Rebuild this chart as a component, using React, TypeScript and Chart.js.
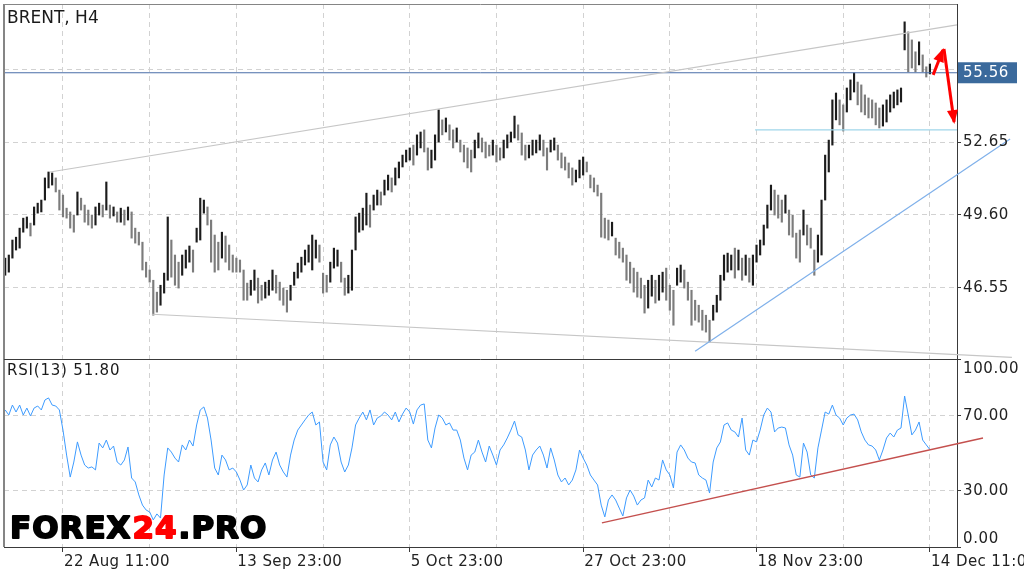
import React, { useEffect, useRef } from 'react';
import { Chart, registerables } from 'chart.js';

Chart.register(...registerables);

// ---- DATA (one point = two H4 bars) ----
const symbolTitle = 'BRENT, H4';
const rsiTitle = 'RSI(13)';
const highs = [
  47.77, 47.90, 48.53, 48.65, 49.03, 49.45, 49.50, 49.24, 49.92, 50.08,
  50.21, 51.14, 51.39, 51.35, 51.14, 50.63, 50.42, 49.87, 49.71, 49.58,
  50.55, 50.29, 50.00, 49.79, 49.58, 49.92, 50.08, 50.00, 50.97, 50.00,
  49.92, 49.71, 49.87, 49.79, 49.92, 49.71, 49.03, 48.86, 48.44, 47.60,
  47.27, 46.84, 46.34, 46.63, 47.14, 49.50, 48.53, 47.90, 47.60, 47.90,
  48.11, 48.28, 48.11, 49.03, 50.29, 50.21, 49.92, 49.37, 48.74, 48.44,
  48.86, 48.70, 48.32, 47.90, 47.77, 47.69, 47.27, 46.72, 46.84, 47.27,
  46.93, 46.63, 46.76, 46.84, 47.27, 47.05, 46.76, 46.51, 46.42, 46.63,
  47.18, 47.56, 47.81, 48.11, 48.32, 48.74, 48.53, 48.32, 47.14, 47.05,
  47.60, 48.19, 48.11, 47.60, 46.93, 47.05, 48.11, 49.50, 49.66, 49.87,
  50.50, 50.00, 50.42, 50.63, 50.55, 51.05, 51.26, 51.14, 51.56, 51.81,
  52.10, 52.31, 52.40, 52.52, 52.95, 53.07, 53.16, 52.40, 52.31, 52.95,
  54.00, 53.58, 53.66, 53.37, 53.16, 53.24, 52.73, 52.52, 52.40, 52.31,
  52.73, 53.03, 52.82, 52.65, 52.52, 52.73, 52.52, 52.40, 52.73, 52.95,
  53.07, 53.74, 53.37, 53.03, 52.52, 52.52, 52.73, 52.73, 52.95, 52.73,
  52.40, 52.73, 52.82, 52.52, 52.19, 52.02, 51.77, 51.56, 51.47, 51.89,
  52.02, 51.81, 51.26, 51.14, 50.84, 50.50, 49.45, 49.37, 49.28, 48.61,
  48.44, 48.19, 47.90, 47.60, 47.35, 47.18, 46.93, 46.63, 46.84, 47.05,
  46.84, 47.05, 47.18, 47.35, 46.63, 46.42, 47.35, 47.48, 47.27, 46.76,
  46.42, 46.00, 45.79, 45.58, 45.37, 45.16, 45.79, 46.21, 47.05, 47.90,
  47.98, 47.90, 48.19, 48.11, 47.77, 47.90, 47.77, 47.90, 48.32, 48.53,
  49.16, 50.00, 50.84, 50.63, 50.42, 50.21, 50.42, 49.79, 49.58, 48.82,
  48.95, 49.79, 49.16, 49.03, 48.11, 48.74, 50.21, 52.10, 52.73, 54.42,
  54.71, 54.42, 54.21, 54.92, 55.26, 55.55, 55.17, 55.05, 54.63, 54.50,
  54.42, 54.29, 54.08, 54.21, 54.42, 54.63, 54.75, 54.84, 54.92, 57.70,
  57.28, 56.94, 56.44, 56.86, 56.31, 55.81, 55.93,
];
const lows = [
  47.05, 47.18, 47.77, 48.11, 48.19, 48.86, 49.03, 48.70, 49.16, 49.66,
  49.71, 50.21, 50.72, 50.84, 50.55, 49.79, 49.50, 49.45, 49.03, 48.86,
  49.58, 49.79, 49.28, 49.16, 49.03, 49.16, 49.58, 49.50, 49.79, 49.45,
  49.54, 49.28, 49.28, 49.16, 49.37, 48.61, 48.40, 48.32, 47.27, 46.97,
  46.76, 45.37, 45.50, 45.79, 46.30, 46.84, 46.97, 46.63, 46.51, 47.05,
  47.35, 47.60, 47.18, 48.44, 48.53, 49.66, 49.16, 47.60, 47.18, 47.27,
  47.77, 47.60, 47.27, 47.18, 47.18, 47.18, 46.00, 46.00, 46.21, 46.42,
  45.88, 46.00, 46.09, 46.21, 46.42, 46.30, 46.00, 45.79, 45.50, 46.00,
  46.63, 46.93, 47.18, 47.48, 47.60, 47.27, 47.77, 47.60, 46.30, 46.34,
  46.76, 47.35, 47.43, 46.76, 46.21, 46.30, 46.42, 48.11, 48.86, 48.95,
  49.16, 49.07, 49.79, 50.00, 50.00, 50.42, 50.63, 50.55, 50.84, 51.14,
  51.60, 51.81, 51.89, 51.68, 52.10, 52.40, 52.23, 51.47, 51.56, 51.89,
  52.65, 52.95, 53.07, 52.73, 52.40, 52.65, 52.23, 51.81, 51.56, 51.39,
  51.98, 52.40, 52.23, 51.98, 52.06, 52.10, 51.81, 51.89, 51.98, 52.40,
  52.65, 52.82, 52.73, 52.10, 51.89, 51.98, 52.10, 52.19, 52.31, 52.06,
  51.47, 52.23, 52.31, 51.89, 51.56, 51.47, 51.14, 50.84, 50.97, 51.14,
  51.26, 51.39, 50.72, 50.55, 50.38, 48.65, 48.61, 48.53, 48.70, 47.90,
  47.77, 47.60, 46.84, 46.72, 46.34, 46.13, 46.09, 45.46, 45.67, 46.17,
  45.88, 46.00, 46.34, 46.00, 45.58, 44.95, 46.63, 46.76, 46.51, 46.00,
  44.95, 45.16, 45.08, 44.74, 44.66, 44.24, 45.16, 45.50, 46.00, 46.84,
  47.18, 47.27, 46.93, 47.27, 46.84, 47.05, 46.76, 46.63, 47.60, 47.90,
  48.32, 49.03, 49.79, 49.58, 49.45, 49.28, 49.66, 48.74, 48.65, 47.77,
  47.60, 48.74, 48.32, 48.19, 47.05, 47.60, 47.90, 50.21, 51.39, 52.52,
  53.58, 53.37, 53.11, 53.91, 54.42, 54.75, 54.21, 53.91, 53.79, 53.66,
  53.66, 53.37, 53.24, 53.32, 53.49, 53.91, 54.08, 54.21, 54.33, 56.52,
  55.60, 55.76, 55.60, 55.89, 55.60, 55.38, 55.51,
];
const rsiValues = [
  72.9, 70.2, 75.5, 71.8, 75.5, 70.2, 73.9, 69.7, 73.9, 75.0,
  72.9, 78.2, 79.3, 75.5, 75.0, 72.9, 62.2, 48.9, 37.2, 45.2,
  55.9, 48.9, 43.6, 42.0, 42.6, 41.0, 55.3, 52.7, 56.9, 51.6,
  53.7, 45.2, 43.6, 46.3, 53.2, 36.7, 34.6, 27.7, 22.3, 19.7,
  18.6, 14.4, 17.6, 15.4, 38.3, 52.7, 50.5, 47.3, 45.2, 54.3,
  51.6, 56.9, 53.7, 64.9, 72.9, 74.5, 68.6, 56.9, 42.0, 38.3,
  48.9, 46.3, 41.0, 42.0, 39.9, 35.6, 30.3, 33.0, 43.6, 36.7,
  34.6, 41.0, 44.7, 38.3, 46.3, 50.5, 43.6, 39.9, 37.2, 48.9,
  56.9, 62.2, 64.9, 67.6, 70.2, 71.8, 64.9, 66.5, 45.2, 41.0,
  54.3, 58.5, 55.3, 45.2, 39.9, 43.6, 52.7, 64.9, 68.6, 71.8,
  67.6, 72.9, 64.9, 68.6, 69.7, 71.8, 70.2, 67.6, 71.8, 66.5,
  70.7, 73.9, 71.8, 65.4, 72.9, 75.5, 76.1, 56.9, 52.7, 63.3,
  70.2, 68.6, 64.9, 66.0, 62.2, 62.2, 56.9, 47.3, 41.0, 48.9,
  50.5, 56.9, 50.5, 45.2, 53.7, 48.9, 43.6, 51.6, 54.3, 58.0,
  62.2, 67.0, 59.6, 58.5, 51.6, 41.0, 48.9, 51.6, 53.7, 48.9,
  42.0, 52.7, 46.3, 38.3, 34.6, 36.7, 33.0, 35.6, 41.0, 51.6,
  47.3, 43.6, 38.3, 35.6, 33.0, 22.3, 16.0, 25.0, 27.7, 25.0,
  20.7, 16.5, 26.1, 30.3, 27.1, 22.3, 25.0, 26.1, 35.6, 31.9,
  36.7, 35.6, 46.3, 41.0, 38.3, 31.4, 50.5, 54.3, 51.6, 47.3,
  45.2, 44.7, 38.3, 36.7, 35.6, 28.7, 45.2, 52.7, 55.9, 64.9,
  66.0, 62.2, 61.2, 58.5, 68.6, 51.6, 48.9, 56.9, 55.9, 62.2,
  70.2, 73.9, 71.8, 61.2, 63.3, 63.8, 63.3, 54.3, 48.9, 38.3,
  37.2, 55.3, 50.5, 38.3, 36.7, 52.7, 62.2, 71.8, 70.7, 75.5,
  70.2, 68.6, 64.9, 68.6, 70.2, 70.7, 67.6, 61.2, 56.9, 54.3,
  53.7, 51.6, 46.3, 51.6, 58.0, 60.6, 58.5, 62.2, 63.3, 80.3,
  70.2, 59.6, 62.2, 66.5, 56.9, 54.3, 51.8,
];
const xTickIndex = [16, 64, 112, 160, 208, 256];
const xTickLabels = ['22 Aug 11:00', '13 Sep 23:00', '5 Oct 23:00', '27 Oct 23:00', '18 Nov 23:00', '14 Dec 11:00'];
const xGridIndex = [16, 40, 64, 88, 112, 136, 160, 184, 208, 232, 256];
const priceTicks = [46.55, 49.6, 52.65, 55.7];
const rsiTicks = [0, 30, 70, 100];
const currentPrice = 55.56;
const rsiCurrent = 51.8;
const upperChannel = [{ x: 12.4, y: 51.39 }, { x: 263.5, y: 57.57 }];
const lowerChannel = [{ x: 40.6, y: 45.41 }, { x: 278.7, y: 43.6 }];
const supportLine = [{ x: 191.0, y: 43.86 }, { x: 278.2, y: 52.78 }];
const targetLevel = [{ x: 207.6, y: 53.16 }, { x: 263.5, y: 53.16 }];
const rsiTrend = [{ x: 165.2, y: 12.8 }, { x: 270.7, y: 58.0 }];
const arrowUp = [{ x: 256.9, y: 55.47 }, { x: 259.6, y: 56.52 }];
const arrowDown = [{ x: 259.9, y: 56.56 }, { x: 262.7, y: 53.49 }];
const X_MIN = -0.33;
const X_MAX = 263.5;
const PRICE_MIN = 43.53;
const PRICE_MAX = 58.45;

const mids = highs.map((h, i) => (h + lows[i]) / 2);
const barColors = mids.map((m, i) => (i === 0 || m >= mids[i - 1] ? '#1c1c1c' : '#7c7c7c'));

const GRID = '#d2d2d2';
const AXIS = '#3a3a3a';

const decorPlugin = {
  id: 'decor',
  afterDatasetsDraw(chart: any) {
    const ctx = chart.ctx;
    chart.data.datasets.forEach((ds: any, i: number) => {
      if (!ds.arrowHead) return;
      const pts = chart.getDatasetMeta(i).data;
      const a = pts[pts.length - 2];
      const b = pts[pts.length - 1];
      const ang = Math.atan2(b.y - a.y, b.x - a.x);
      const L = 12, W = 5.5;
      const c = Math.cos(ang), s = Math.sin(ang);
      ctx.save();
      ctx.fillStyle = ds.borderColor;
      ctx.beginPath();
      ctx.moveTo(b.x + c * 2, b.y + s * 2);
      ctx.lineTo(b.x - L * c + W * s, b.y - L * s - W * c);
      ctx.lineTo(b.x - L * c - W * s, b.y - L * s + W * c);
      ctx.closePath();
      ctx.fill();
      ctx.restore();
    });
  },
  afterDraw(chart: any) {
    const { ctx, chartArea: ca, scales } = chart;
    const y = scales.y, r = scales.rsi, x = scales.x;
    ctx.save();
    // frame
    ctx.strokeStyle = '#858585';
    ctx.lineWidth = 2;
    ctx.beginPath(); ctx.moveTo(ca.left, ca.top); ctx.lineTo(ca.left, ca.bottom); ctx.stroke();
    ctx.lineWidth = 1;
    ctx.beginPath(); ctx.moveTo(ca.left, ca.top + 0.5); ctx.lineTo(ca.right, ca.top + 0.5); ctx.stroke();
    ctx.strokeStyle = AXIS;
    const sep = Math.round(r.top) + 0.5;
    ctx.beginPath(); ctx.moveTo(ca.left, sep); ctx.lineTo(ca.right, sep); ctx.stroke();

    // right axis labels
    ctx.font = '15px "DejaVu Sans"';
    (ctx as any).letterSpacing = '0.6px';
    ctx.textAlign = 'left';
    ctx.textBaseline = 'middle';
    ctx.fillStyle = '#222';
    priceTicks.forEach((v) => {
      if (Math.abs(v - currentPrice) < 0.5) return;
      ctx.fillText(v.toFixed(2), ca.right + 6, y.getPixelForValue(v) + 0.5);
    });
    rsiTicks.forEach((v) => {
      let py = r.getPixelForValue(v);
      py = Math.min(Math.max(py, r.top + 10), r.bottom - 8);
      ctx.fillText(v.toFixed(2), ca.right + 6, py + 0.5);
    });
    // current price box
    const pp = y.getPixelForValue(currentPrice);
    ctx.fillStyle = '#3b6a9c';
    ctx.fillRect(ca.right + 1, pp - 10.5, 59, 21);
    ctx.fillStyle = '#ffffff';
    ctx.fillText(currentPrice.toFixed(2), ca.right + 6, pp + 0.5);

    // bottom time labels
    ctx.fillStyle = '#222';
    ctx.textBaseline = 'alphabetic';
    (ctx as any).letterSpacing = '0.4px';
    xTickIndex.forEach((k, i) => {
      ctx.fillText(xTickLabels[i], x.getPixelForValue(k) + 1, 566);
    });

    // titles
    (ctx as any).letterSpacing = '0px';
    ctx.font = '17px "DejaVu Sans"';
    ctx.fillStyle = '#1a1a1a';
    ctx.fillText(symbolTitle, ca.left + 3, 23);
    ctx.font = '15px "DejaVu Sans"';
    (ctx as any).letterSpacing = '0.8px';
    ctx.fillText(rsiTitle + ' ' + rsiCurrent.toFixed(2), ca.left + 3, r.top + 16);

    // watermark
    ctx.font = 'bold 31px "DejaVu Sans"';
    (ctx as any).letterSpacing = '1px';
    let wx = 10;
    const wy = 538;
    const parts: [string, string][] = [['FOREX', '#000000'], ['24', '#ff0000'], ['.PRO', '#000000']];
    parts.forEach(([t, c]) => {
      ctx.fillStyle = c;
      ctx.strokeStyle = c;
      ctx.lineWidth = 1.8;
      ctx.lineJoin = 'round';
      ctx.strokeText(t, wx, wy);
      ctx.fillText(t, wx, wy);
      wx += ctx.measureText(t).width + 1;
    });
    ctx.restore();
  },
};

function lineDs(data: any[], color: string, width: number, axis: string, clip: any, extra: any = {}) {
  return {
    type: 'line',
    data,
    borderColor: color,
    backgroundColor: color,
    borderWidth: width,
    pointRadius: 0,
    tension: 0,
    fill: false,
    yAxisID: axis,
    xAxisID: 'x',
    clip,
    ...extra,
  };
}

export default function App() {
  const ref = useRef<HTMLCanvasElement>(null);
  useEffect(() => {
    if (!ref.current) return;
    const extRight = { left: 0, top: 0, right: 70, bottom: 0 };
    const config: any = {
      type: 'bar',
      data: {
        datasets: [
          lineDs(arrowUp, '#ff0000', 3, 'y', false, { arrowHead: true }),
          lineDs(arrowDown, '#ff0000', 3, 'y', false, { arrowHead: true }),
          lineDs(rsiTrend, '#c4504e', 1.4, 'rsi', { left: 0, top: 0, right: 40, bottom: 0 }),
          lineDs(supportLine, '#7fb0ea', 1.2, 'y', extRight),
          lineDs(lowerChannel, '#c6c6c6', 1.2, 'y', extRight),
          lineDs(upperChannel, '#c6c6c6', 1.2, 'y', 1),
          lineDs(targetLevel, '#9fd6ea', 1.2, 'y', 1),
          lineDs([{ x: X_MIN, y: currentPrice }, { x: X_MAX, y: currentPrice }], '#4a6ea8', 1, 'y', 1),
          lineDs(rsiValues.map((v, i) => ({ x: i, y: v })), '#3d9bff', 1, 'rsi', 1),
          {
            type: 'bar',
            data: highs.map((h, i) => ({ x: i, y: [lows[i], h] })),
            backgroundColor: barColors,
            borderWidth: 0,
            barThickness: 1.5,
            grouped: false,
            xAxisID: 'x',
            yAxisID: 'y',
          },
        ],
      },
      options: {
        responsive: false,
        animation: false,
        events: [],
        layout: { padding: { left: 4, top: 4, right: 0, bottom: 0 } },
        plugins: { legend: { display: false }, tooltip: { enabled: false }, title: { display: false } },
        scales: {
          x: {
            type: 'linear',
            min: X_MIN,
            max: X_MAX,
            offset: false,
            afterBuildTicks: (s: any) => { s.ticks = xGridIndex.map((v) => ({ value: v })); },
            ticks: { display: false },
            grid: {
              color: GRID,
              offset: false,
              drawTicks: true,
              tickLength: 5,
              tickColor: (c: any) => (c.tick && xTickIndex.includes(c.tick.value) ? AXIS : 'rgba(0,0,0,0)'),
            },
            border: { display: true, color: AXIS, width: 1, dash: [5, 4] },
            afterFit: (s: any) => { s.height = 30; },
          },
          y: {
            type: 'linear',
            position: 'right',
            stack: 'panes',
            stackWeight: 355,
            min: PRICE_MIN,
            max: PRICE_MAX,
            beginAtZero: false,
            afterBuildTicks: (s: any) => { s.ticks = priceTicks.map((v) => ({ value: v })); },
            ticks: { display: false },
            grid: { color: GRID, drawTicks: true, tickLength: 4, tickColor: AXIS },
            border: { display: true, color: AXIS, width: 1, dash: [5, 4] },
            afterFit: (s: any) => { s.width = 67; },
          },
          rsi: {
            type: 'linear',
            position: 'right',
            stack: 'panes',
            stackWeight: 188,
            min: 0,
            max: 100,
            afterBuildTicks: (s: any) => { s.ticks = rsiTicks.map((v) => ({ value: v })); },
            ticks: { display: false },
            grid: {
              color: (c: any) => (c.tick && (c.tick.value === 0 || c.tick.value === 100) ? 'rgba(0,0,0,0)' : GRID),
              drawTicks: true,
              tickLength: 4,
              tickColor: AXIS,
            },
            border: { display: true, color: AXIS, width: 1, dash: [5, 4] },
            afterFit: (s: any) => { s.width = 67; },
          },
        },
      },
      plugins: [decorPlugin],
    };
    const chart = new Chart(ref.current, config);
    return () => chart.destroy();
  }, []);
  return (
    <div style={{ position: 'fixed', left: 0, top: 0, width: 1024, height: 577, background: '#ffffff' }}>
      <canvas ref={ref} width={1024} height={577} style={{ display: 'block' }} />
    </div>
  );
}
